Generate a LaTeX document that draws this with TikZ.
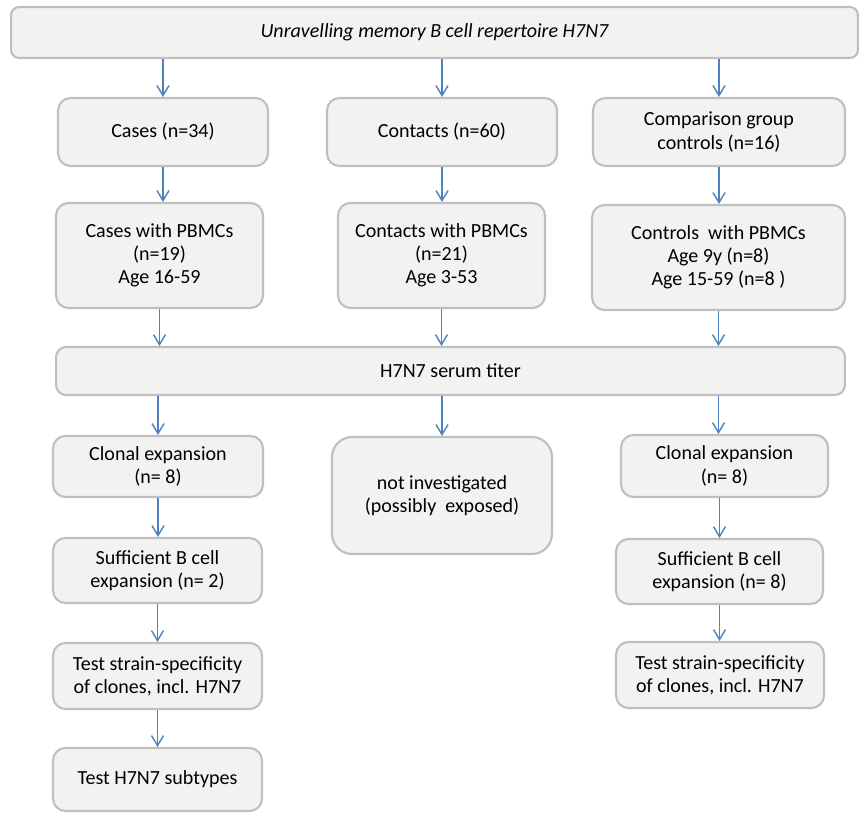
\documentclass[tikz,border=0pt]{standalone}
\usepackage{fontspec}
\setmainfont{Carlito}
\usetikzlibrary{arrows.meta}
\definecolor{boxfill}{HTML}{F2F2F2}
\definecolor{boxline}{HTML}{BFBFBF}
\definecolor{arrowblue}{HTML}{4F81BD}

\begin{document}
\begin{tikzpicture}[x=0.02cm, y=-0.02cm,
    box/.style={draw=boxline, fill=boxfill, line width=1.2pt, rounded corners=0.25cm,
        align=center, inner sep=2pt, font=\fontsize{11.4}{13.2}\selectfont},
    arr/.style={draw=arrowblue, line width=0.8pt, -{Straight Barb[length=2mm, width=2.4mm]}}]
    \useasboundingbox (0,0) rectangle (859,813);
    % Nodes
    \node[box, rounded corners=0.16cm, minimum width=16.94cm, minimum height=1.02cm,
        font=\fontsize{11.4}{13.2}\selectfont\itshape] (top) at (434.5,32.5) {Unravelling memory B cell repertoire H7N7};
    \node[box, minimum width=4.2cm, minimum height=1.36cm] (cases) at (163,132) {Cases (n=34)};
    \node[box, minimum width=4.6cm, minimum height=1.36cm] (contacts) at (442,132) {Contacts (n=60)};
    \node[box, minimum width=5.04cm, minimum height=1.36cm] (comparison) at (719,132) {Comparison group\\controls (n=16)};
    \node[box, minimum width=4.14cm, minimum height=2.1cm] (casespbmc) at (159.5,255.5) {Cases with PBMCs\\(n=19)\\Age 16-59};
    \node[box, minimum width=4.14cm, minimum height=2.1cm] (contactspbmc) at (441.5,255.5) {Contacts with PBMCs\\(n=21)\\Age 3-53};
    \node[box, minimum width=5.06cm, minimum height=2.1cm] (controlspbmc) at (718.5,257.5) {Controls\ \ with PBMCs\\Age 9y (n=8)\\Age 15-59 (n=8 )};
    \node[box, rounded corners=0.2cm, minimum width=15.78cm, minimum height=0.96cm] (titer) at (450.5,371) {H7N7 serum titer};
    \node[box, minimum width=4.2cm, minimum height=1.22cm] (clonalL) at (158,466.5) {Clonal expansion\\(n= 8)};
    \node[box, rounded corners=0.4cm, minimum width=4.4cm, minimum height=2.34cm] (notinv) at (442,495.5) {not investigated\\(possibly\ \ exposed)};
    \node[box, minimum width=4.14cm, minimum height=1.24cm] (clonalR) at (724.5,466) {Clonal expansion\\(n= 8)};
    \node[box, minimum width=4.18cm, minimum height=1.3cm] (suffL) at (157.5,570.5) {Sufficient B cell\\expansion (n= 2)};
    \node[box, minimum width=4.14cm, minimum height=1.3cm] (suffR) at (719.5,571.5) {Sufficient B cell\\expansion (n= 8)};
    \node[box, minimum width=4.18cm, minimum height=1.32cm] (testL) at (157.5,676) {Test strain-specificity\\of clones, incl. H7N7};
    \node[box, minimum width=4.16cm, minimum height=1.32cm] (testR) at (720,675) {Test strain-specificity\\of clones, incl. H7N7};
    \node[box, minimum width=4.18cm, minimum height=1.26cm] (subtypes) at (157.5,779.5) {Test H7N7 subtypes};
    % Edges
    \draw[arr] (top.south -| cases.north) -- (cases.north);
    \draw[arr] (top.south -| contacts.north) -- (contacts.north);
    \draw[arr] (top.south -| comparison.north) -- (comparison.north);
    \draw[arr] (cases.south) -- (cases.south |- casespbmc.north);
    \draw[arr] (contacts.south) -- (contacts.south |- contactspbmc.north);
    \draw[arr] (comparison.south) -- (comparison.south |- controlspbmc.north);
    \draw[arr] (casespbmc.south) -- (casespbmc.south |- titer.north);
    \draw[arr] (contactspbmc.south) -- (contactspbmc.south |- titer.north);
    \draw[arr] (controlspbmc.south) -- (controlspbmc.south |- titer.north);
    \draw[arr] (titer.south -| clonalL.north) -- (clonalL.north);
    \draw[arr] (titer.south -| notinv.north) -- (notinv.north);
    \draw[arr] (titer.south -| controlspbmc.south) -- (controlspbmc.south |- clonalR.north);
    \draw[arr] (clonalL.south) -- (clonalL.south |- suffL.north);
    \draw[arr] (clonalR.south -| suffR.north) -- (suffR.north);
    \draw[arr] (suffL.south) -- (suffL.south |- testL.north);
    \draw[arr] (suffR.south) -- (suffR.south |- testR.north);
    \draw[arr] (testL.south) -- (testL.south |- subtypes.north);
\end{tikzpicture}
\end{document}
